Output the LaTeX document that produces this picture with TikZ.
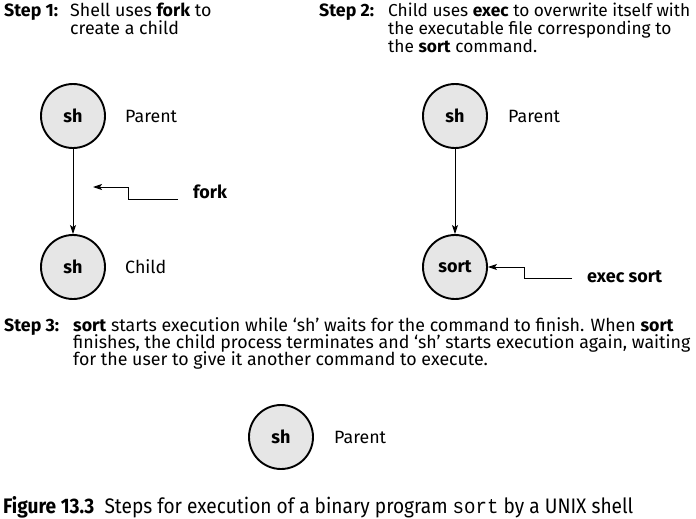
\documentclass[tikz,border=0pt]{standalone}
\usepackage{fontspec}
\setmainfont{Fira Sans}
\setmonofont{Liberation Mono}
\newfontfamily\capfont[FakeStretch=0.91]{Fira Sans}
\newfontfamily\capmono[FakeStretch=0.91]{Liberation Mono}
\usetikzlibrary{arrows.meta,calc}
\definecolor{procgray}{HTML}{E6E6E6}
\lineskiplimit=-20pt

\begin{document}
\begin{tikzpicture}[x=1pt, y=-1pt, font=\fontsize{17.8}{18}\selectfont,
    proc/.style={circle, draw, line width=1.9pt, fill=procgray, minimum size=64pt, inner sep=0pt, font=\fontsize{18}{18}\selectfont\bfseries},
    tag/.style={anchor=west, inner sep=0pt},
    bold/.style={font=\fontsize{18}{18}\selectfont\bfseries},
    steplbl/.style={anchor=base west, inner sep=0pt, font=\fontsize{17.8}{18}\selectfont\bfseries},
    steptxt/.style={anchor=base west, inner sep=0pt, align=left},
    arr/.style={-{Stealth[length=9pt, width=6pt, inset=2pt]}, line width=0.9pt}]
    \useasboundingbox (0,0) rectangle (696,519);

    % step 1
    \node[steplbl] (step1) at (4,17) {Step 1:};
    \node[steptxt] (step1txt) at (70,35) {Shell uses \textbf{fork} to\\create a child};
    \node[proc] (parent1) at (73,116) {sh};
    \node[tag] (parent1lbl) at (125,116) {Parent};
    \node[proc] (child1) at (73,267) {sh};
    \node[tag] (child1lbl) at (125,267) {Child};
    \node[bold, anchor=base west, inner sep=0pt] (forklbl) at (193,198) {fork};
    \coordinate (forktip) at (93,187);
    \draw[arr] (parent1) -- (child1);
    \draw[arr] ($(forklbl.base west)+(-15,1)$) -- ++(-50,0) |- (forktip);

    % step 2
    \node[steplbl] (step2) at (319,17) {Step 2:};
    \node[steptxt, font=\fontsize{17.3}{18}\selectfont] (step2txt) at (388,53) {Child uses \textbf{exec} to overwrite itself with\\the executable file corresponding to\\the \textbf{sort} command.};
    \node[proc] (parent2) at (455,116) {sh};
    \node[tag] (parent2lbl) at (508,116) {Parent};
    \node[proc] (child2) at (455,267) {sort};
    \node[bold, tag] (execlbl) at (587,277) {exec sort};
    \draw[arr] (parent2) -- (child2);
    \draw[arr] ($(execlbl.west)+(-15,1)$) -- ++(-48,0) |- (child2.east);

    % step 3
    \node[steplbl] (step3) at (4,331) {Step 3:};
    \node[steptxt, font=\fontsize{17.8}{17}\selectfont] (step3txt) at (73,365) {\textbf{sort} starts execution while ‘sh’ waits for the command to finish. When \textbf{sort}\\finishes, the child process terminates and ‘sh’ starts execution again, waiting\\for the user to give it another command to execute.};
    \node[proc] (parent3) at (281,437) {sh};
    \node[tag] (parent3lbl) at (334,437) {Parent};

    % caption
    \node[anchor=base west, inner sep=0pt, font=\fontsize{21}{24}\capfont] (caption) at (3,513) {\textbf{Figure 13.3}\ \ Steps for execution of a binary program {\capmono sort} by a UNIX shell};
\end{tikzpicture}
\end{document}
